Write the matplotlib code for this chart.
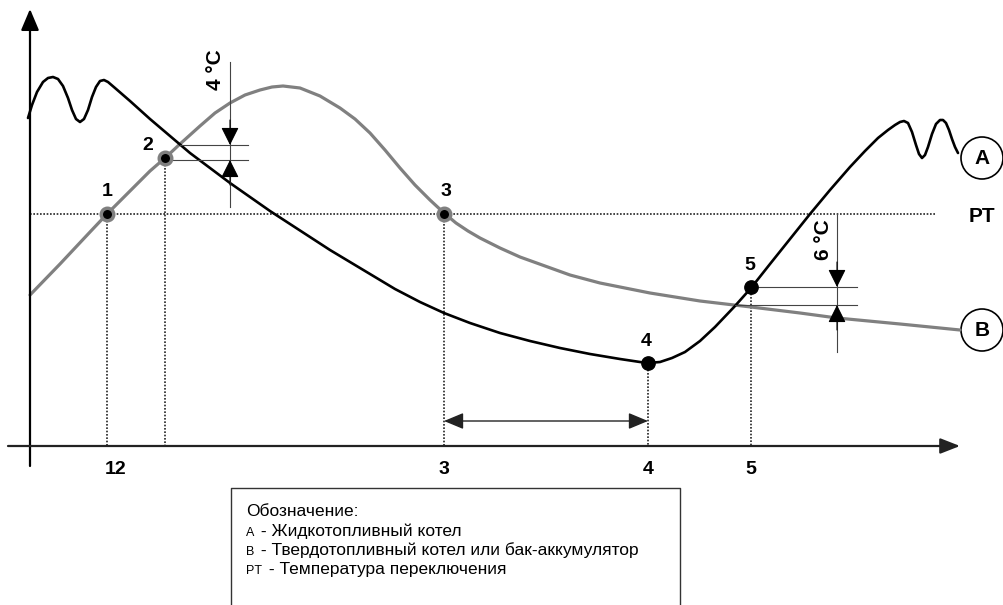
import matplotlib.pyplot as plt
from matplotlib.patches import Circle

plt.rcParams['font.family'] = ['Liberation Sans', 'DejaVu Sans']

# Curve A - liquid fuel boiler (black) (x, y in px)
a_x = [28, 32, 37, 43, 48, 53, 58, 63, 68, 72, 76, 80, 84, 88, 92, 96, 100, 104,
       108, 115, 130, 150, 170, 190, 210, 230, 250, 270, 290, 310, 330, 350, 370,
       395, 420, 444, 470, 500, 530, 560, 590, 620, 640, 648, 660, 672, 685, 700,
       715, 735, 751, 770, 790, 810, 830, 850, 865, 878, 888, 895, 900, 904, 908,
       912, 916, 919, 922, 925, 928, 932, 936, 940, 943, 946, 949, 952, 955, 958]
a_y = [118, 105, 92, 82, 78, 77, 79, 86, 98, 110, 119, 122, 119, 110, 97, 87, 81, 80,
       82, 88, 101, 119, 136, 153, 168, 183, 197, 211, 224, 237, 250, 262, 274,
       289, 302, 313, 323, 333, 341, 348, 354, 359, 362, 363, 362, 358, 352, 341,
       327, 306, 288, 264, 239, 214, 190, 167, 151, 138, 130, 125, 122, 121, 123,
       132, 145, 154, 158, 155, 147, 134, 124, 120, 120, 123, 130, 139, 147, 153]

# Curve B - solid fuel boiler or buffer tank (grey)
b_x = [30, 60, 90, 107, 130, 150, 165, 180, 200, 215, 230, 245, 260, 272, 283,
       300, 320, 340, 355, 370, 385, 400, 415, 430, 444, 456, 468, 480, 500,
       520, 545, 570, 600, 650, 700, 751, 800, 837, 900, 960]
b_y = [295, 264, 232, 214, 191, 171, 158, 144, 126, 113, 103, 95, 90, 87, 86,
       88, 96, 108, 119, 133, 150, 168, 185, 200, 213, 223, 231, 238, 248,
       257, 266, 275, 283, 293, 301, 307, 313, 318, 324, 330]

switch_level = 214          # PT, switching temperature
point_x = [107, 165, 444, 648, 751]
point_y = [214, 158, 214, 363, 287]
point_labels = ['1', '2', '3', '4', '5']
tick_x = [116, 444, 648, 751]
tick_labels = ['12', '3', '4', '5']

legend_title = 'Обозначение:'
legend_keys = ['A', 'B', 'PT']
legend_texts = [' - Жидкотопливный котел',
                ' - Твердотопливный котел или бак-аккумулятор',
                ' - Температура переключения']

GREY = '#808080'

fig = plt.figure(figsize=(10.04, 6.05), dpi=100)
ax = fig.add_axes([0, 0, 1, 1])
ax.set_xlim(0, 1004)
ax.set_ylim(605, 0)
ax.axis('off')

# axes with arrows
ax.annotate('', xy=(30, 9), xytext=(30, 466),
            arrowprops=dict(arrowstyle='-|>,head_length=1.3,head_width=0.55',
                            mutation_scale=10, lw=1.6, color='black',
                            shrinkA=0, shrinkB=0))
ax.annotate('', xy=(960, 446), xytext=(8, 446),
            arrowprops=dict(arrowstyle='-|>,head_length=1.2,head_width=0.47',
                            mutation_scale=10, lw=1.6, color='#222222',
                            shrinkA=0, shrinkB=0))

# dotted guides
dot = dict(color='#222222', lw=1.2, linestyle=(0, (1, 1)))
ax.plot([30, 935], [switch_level, switch_level], **dot)
for px, py in zip(point_x, point_y):
    ax.plot([px, px], [py, 446], **dot)

# curves
ax.plot(b_x, b_y, color=GREY, lw=2.3, solid_capstyle='round',
        solid_joinstyle='round')
ax.plot(a_x, a_y, color='black', lw=1.9, solid_capstyle='round',
        solid_joinstyle='round')

# points
ax.scatter(point_x[:3], point_y[:3], s=81, c='black', edgecolors=GREY,
           linewidths=2.5, zorder=5)
ax.scatter(point_x[3:], point_y[3:], s=92, c='black', zorder=5)

label_pos = [(107, 191), (148, 145), (446, 191), (646, 341), (750, 265)]
for (lx, ly), lab in zip(label_pos, point_labels):
    ax.text(lx, ly, lab, ha='center', va='center', fontsize=14,
            fontweight='bold')

for tx, tl in zip(tick_x, tick_labels):
    ax.text(tx, 470, tl, ha='center', va='center', fontsize=14,
            fontweight='bold')

# range arrow between 3 and 4
ax.annotate('', xy=(444, 421), xytext=(648, 421),
            arrowprops=dict(arrowstyle='<|-|>,head_length=1.2,head_width=0.5',
                            mutation_scale=10, lw=1.0, color='#222222',
                            shrinkA=0, shrinkB=0))


def delta_marker(x, y_top, y_bot, y_start, y_end, x_left_top, x_left_bot,
                 x_right, label, label_xy):
    thin = dict(color='#444444', lw=0.8)
    ax.plot([x, x], [y_start, y_end], **thin)
    ax.plot([x_left_top, x_right], [y_top, y_top], **thin)
    ax.plot([x_left_bot, x_right], [y_bot, y_bot], **thin)
    head = dict(arrowstyle='-|>,head_length=1.1,head_width=0.55',
                mutation_scale=10, lw=0.8, color='black',
                shrinkA=0, shrinkB=0)
    ax.annotate('', xy=(x, y_top), xytext=(x, y_top - 25), arrowprops=head)
    ax.annotate('', xy=(x, y_bot), xytext=(x, y_bot + 25), arrowprops=head)
    ax.text(label_xy[0], label_xy[1], label, rotation=90, ha='center',
            va='center', fontsize=15, fontweight='bold')


delta_marker(230, 145, 160, 62, 207, 180, 170, 248, '4 °C', (216, 70))
delta_marker(837, 287, 305, 214, 352, 755, 735, 857, '6 °C', (824, 240))

# curve tags
for cy, tag in [(158, 'A'), (330, 'B')]:
    ax.add_patch(Circle((982, cy), 21, fill=False, lw=1.2, ec='black'))
    ax.text(982, cy + 1, tag, ha='center', va='center', fontsize=15,
            fontweight='bold')
ax.text(982, 216, 'PT', ha='center', va='center', fontsize=15,
        fontweight='bold')

# legend box
ax.plot([231, 231, 680, 680], [606, 488, 488, 606], color='#333333', lw=1.0)
ax.text(246, 516, legend_title, fontsize=12.5, va='baseline')
key_ends = [256, 256, 264]
for i, (key, txt) in enumerate(zip(legend_keys, legend_texts)):
    yb = 536 + i * 19
    ax.text(246, yb, key, fontsize=9, va='baseline')
    ax.text(key_ends[i], yb, txt, fontsize=12.5, va='baseline')

fig.savefig('out.png', dpi=100)
